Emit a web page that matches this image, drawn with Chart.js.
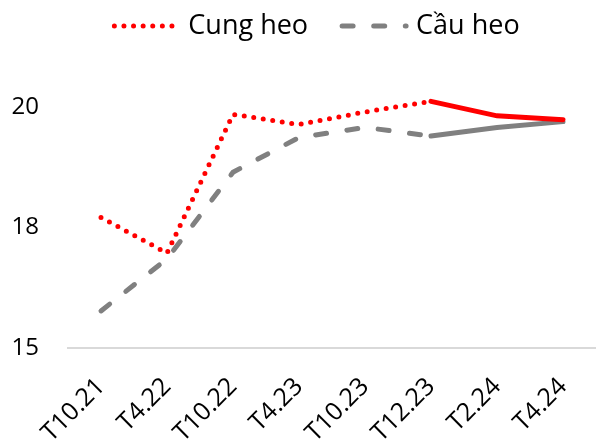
<!DOCTYPE html>
<html>
<head>
<meta charset="utf-8">
<script src="https://cdn.jsdelivr.net/npm/chart.js@4.4.1/dist/chart.umd.min.js"></script>
<style>
  html, body { margin: 0; padding: 0; background: #fff; }
  #wrap { width: 596px; height: 442px; }
</style>
</head>
<body>
<div id="wrap"><canvas id="chart"></canvas></div>
<script>
var labels = ['T10.21', 'T4.22', 'T10.22', 'T4.23', 'T10.23', 'T12.23', 'T2.24', 'T4.24'];
var cungHeo = [17.71, 16.97, 19.85, 19.64, 19.90, 20.12, 19.82, 19.74];
var cauHeo = [15.77, 16.85, 18.65, 19.37, 19.58, 19.40, 19.58, 19.70];
var yTickValues = [15, 17.5, 20];
var yTickLabels = ['15', '18', '20'];
var solidFrom = 5; // lines turn solid from T12.23 on

var FONT = '"Open Sans", "Noto Sans", sans-serif';

// legend drawn by hand: a line sample then the label, centred above the plot
var lineLegend = {
    id: 'lineLegend',
    afterDraw: function(chart) {
        var ctx = chart.ctx;
        var sample = 68, gapText = 8, gapItem = 32, y = 26;
        ctx.save();
        ctx.font = '27px ' + FONT;
        var sets = chart.data.datasets;
        var total = 0;
        sets.forEach(function(ds, i) {
            total += sample + gapText + ctx.measureText(ds.label).width + (i ? gapItem : 0);
        });
        var x = chart.width / 2 + 18 - total / 2;
        sets.forEach(function(ds, i) {
            if (i) x += gapItem;
            ctx.beginPath();
            ctx.strokeStyle = ds.borderColor;
            ctx.lineWidth = ds.borderWidth;
            ctx.lineCap = ds.borderCapStyle;
            ctx.setLineDash(ds.borderDash);
            ctx.moveTo(x + 2, y);
            ctx.lineTo(x + sample - 2, y);
            ctx.stroke();
            ctx.setLineDash([]);
            x += sample + gapText;
            ctx.fillStyle = '#000';
            ctx.textBaseline = 'middle';
            ctx.fillText(ds.label, x, y);
            x += ctx.measureText(ds.label).width;
        });
        ctx.restore();
    }
};

function solidAfter(ctx) {
    return ctx.p0DataIndex >= solidFrom ? [] : undefined;
}

var ctx = document.getElementById('chart').getContext('2d');
var chart = new Chart(ctx, {
    type: 'line',
    data: {
        labels: labels,
        datasets: [{
            label: 'Cung heo',
            data: cungHeo,
            borderColor: '#ff0000',
            borderWidth: 5,
            borderDash: [0, 9.6],
            borderCapStyle: 'round',
            pointRadius: 0,
            tension: 0,
            segment: { borderDash: solidAfter }
        },
        {
            label: 'Cầu heo',
            data: cauHeo,
            borderColor: '#808080',
            borderWidth: 5,
            borderDash: [11, 20.6],
            borderCapStyle: 'round',
            pointRadius: 0,
            tension: 0,
            segment: { borderDash: solidAfter }
        }]
    },
    options: {
        responsive: true,
        maintainAspectRatio: false,
        animation: false,
        layout: { padding: { top: 59, left: 0, right: -5, bottom: 0 } },
        plugins: {
            legend: { display: false },
            tooltip: { enabled: false }
        },
        scales: {
            x: {
                offset: true,
                grid: { display: false },
                border: { color: '#d9d9d9', width: 2 },
                ticks: {
                    color: '#000',
                    font: { family: FONT, size: 25 },
                    maxRotation: 45,
                    minRotation: 45,
                    padding: 16
                },
                // rotated labels may hang past the plot edge; keep the axis tight
                afterFit: function(axis) {
                    axis.paddingLeft = 0;
                    axis.paddingRight = 0;
                    axis.height = 94;
                }
            },
            y: {
                min: 15,
                max: 21,
                grid: { display: false, drawTicks: false },
                border: { display: false },
                afterBuildTicks: function(axis) {
                    axis.ticks = yTickValues.map(function(v) { return { value: v }; });
                },
                afterFit: function(axis) {
                    axis.width = 68;
                    axis.paddingTop = 0;
                    axis.paddingBottom = 0;
                },
                ticks: {
                    color: '#000',
                    font: { family: FONT, size: 24 },
                    padding: 29,
                    callback: function(value) {
                        return yTickLabels[yTickValues.indexOf(value)];
                    }
                }
            }
        }
    },
    plugins: [lineLegend]
});
</script>
</body>
</html>
